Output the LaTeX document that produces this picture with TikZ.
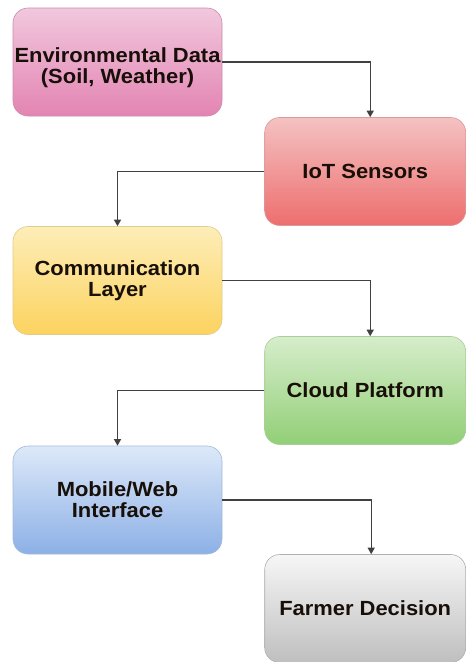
\documentclass[tikz,border=0pt]{standalone}
\usepackage{fontspec}
\setmainfont[FakeStretch=1.07]{Liberation Sans}
\usetikzlibrary{arrows.meta}
\tikzset{
  flowbox/.style={rounded corners=15pt, minimum width=209pt, minimum height=108pt,
    inner sep=0pt, align=center, text=black!88!brown,
    font=\fontsize{20.5}{21}\selectfont\bfseries, line width=0.6pt},
  leftbox/.style={flowbox, minimum width=209pt},
  rightbox/.style={flowbox, minimum width=201pt},
  link/.style={draw=black!75, line width=1.3pt,
    -{Triangle[width=7pt,length=6.5pt]}}
}
\definecolor{pinkT}{HTML}{F1C8DE}\definecolor{pinkB}{HTML}{E384B2}\definecolor{pinkD}{HTML}{C98DAB}
\definecolor{redT}{HTML}{F4C2C2}\definecolor{redB}{HTML}{EE6E6E}\definecolor{redD}{HTML}{D99A9A}
\definecolor{yelT}{HTML}{FDEDB8}\definecolor{yelB}{HTML}{FCD35F}\definecolor{yelD}{HTML}{E3CB8A}
\definecolor{grnT}{HTML}{D6EDCB}\definecolor{grnB}{HTML}{92CF77}\definecolor{grnD}{HTML}{A9CF98}
\definecolor{bluT}{HTML}{DDE9F9}\definecolor{bluB}{HTML}{8CB0E6}\definecolor{bluD}{HTML}{A3B9D8}
\definecolor{gryT}{HTML}{F6F6F6}\definecolor{gryB}{HTML}{BFBFBF}\definecolor{gryD}{HTML}{B0B0B0}
\begin{document}
\begin{tikzpicture}[x=1pt,y=-1pt]
  \useasboundingbox[fill=white] (0,0) rectangle (466,662);
  \node[leftbox, top color=pinkT, bottom color=pinkB, draw=pinkD, text height=47pt] (env) at (117.5,62)
    {Environmental Data\\(Soil, Weather)};
  \node[rightbox, top color=redT, bottom color=redB, draw=redD] (iot) at (365.2,171.5)
    {IoT Sensors};
  \node[leftbox, top color=yelT, bottom color=yelB, draw=yelD] (comm) at (117.5,280.5)
    {Communication\\Layer};
  \node[rightbox, top color=grnT, bottom color=grnB, draw=grnD] (cloud) at (365.2,390.5)
    {Cloud Platform};
  \node[leftbox, top color=bluT, bottom color=bluB, draw=bluD] (app) at (117.5,500)
    {Mobile/Web\\Interface};
  \node[rightbox, top color=gryT, bottom color=gryB, draw=gryD] (farmer) at (365.2,608.5)
    {Farmer Decision};

  \draw[link] (env.east) -| ([xshift=5pt]iot.north);
  \draw[link] (iot.west) -| (comm.north);
  \draw[link] (comm.east) -| ([xshift=5pt]cloud.north);
  \draw[link] (cloud.west) -| (app.north);
  \draw[link] (app.east) -| ([xshift=6pt]farmer.north);
\end{tikzpicture}
\end{document}
